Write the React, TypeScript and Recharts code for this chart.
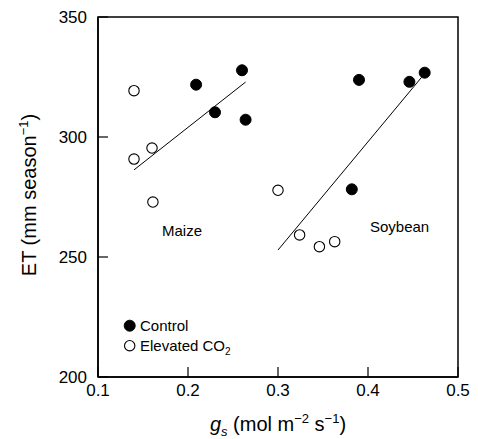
import React from "react";
import {
  ComposedChart,
  Scatter,
  XAxis,
  YAxis,
  ReferenceLine,
  ReferenceArea,
  ReferenceDot,
  Legend,
} from "recharts";

const FONT = '"Liberation Sans", Arial, Helvetica, sans-serif';

// Data
const controlX = [0.209, 0.23, 0.26, 0.264, 0.382, 0.39, 0.446, 0.463];
const controlY = [321.8, 310.3, 327.8, 307.2, 278.2, 323.8, 323.0, 326.8];
const elevatedX = [0.14, 0.14, 0.16, 0.161, 0.3, 0.324, 0.346, 0.363];
const elevatedY = [319.3, 290.8, 295.4, 272.9, 277.8, 259.2, 254.3, 256.4];

const maizeFitX = [0.14, 0.264];
const maizeFitY = [286.3, 322.9];
const soyFitX = [0.3, 0.4596];
const soyFitY = [252.9, 324.9];

const xTicks = [0.1, 0.2, 0.3, 0.4, 0.5];
const yTicks = [200, 250, 300, 350];

const cropLabels = ["Maize", "Soybean"];
const cropLabelX = [0.1711, 0.4022];
const cropLabelY = [258.75, 260.4];

const seriesNames = ["Control", "Elevated CO"];

const controlData = controlX.map((x, i) => ({ x, y: controlY[i] }));
const elevatedData = elevatedX.map((x, i) => ({ x, y: elevatedY[i] }));

const FilledDot = (p: any) => (
  <circle cx={p.cx} cy={p.cy} r={5.5} fill="#000" stroke="#000" strokeWidth={1} />
);
const OpenDot = (p: any) => (
  <circle cx={p.cx} cy={p.cy} r={5.2} fill="#fff" stroke="#000" strokeWidth={1.1} />
);

const XTick = (p: any) => {
  const { x, y, payload } = p;
  return (
    <g>
      <line x1={x} y1={y} x2={x} y2={y - 10} stroke="#000" strokeWidth={1.2} />
      <text x={x} y={y + 19} textAnchor="middle" fontSize={17} fontFamily={FONT} fill="#000">
        {Number(payload.value).toFixed(1)}
      </text>
    </g>
  );
};

const YTick = (p: any) => {
  const { x, y, payload } = p;
  return (
    <g>
      <line x1={x} y1={y} x2={x + 10} y2={y} stroke="#000" strokeWidth={1.2} />
      <text x={x - 11} y={y + 6} textAnchor="end" fontSize={17} fontFamily={FONT} fill="#000">
        {payload.value}
      </text>
    </g>
  );
};

const YLabel = (p: any) => {
  const vb = p.viewBox || { x: 0, y: 17, width: 98, height: 360 };
  const cx = vb.x + 36;
  const cy = vb.y + vb.height / 2 - 2;
  return (
    <text
      x={cx}
      y={cy}
      transform={`rotate(-90, ${cx}, ${cy})`}
      textAnchor="middle"
      fontSize={20}
      fontFamily={FONT}
      fill="#000"
    >
      ET (mm season
      <tspan fontSize={13} dy={-8}>
        −1
      </tspan>
      <tspan dy={8}>)</tspan>
    </text>
  );
};

const XLabel = (p: any) => {
  const vb = p.viewBox || { x: 98, y: 377, width: 360, height: 62 };
  const cx = vb.x + vb.width / 2;
  const cy = vb.y + 54;
  return (
    <text x={cx} y={cy} textAnchor="middle" fontSize={20} fontFamily={FONT} fill="#000">
      <tspan fontStyle="italic">g</tspan>
      <tspan fontStyle="italic" fontSize={13} dy={5}>
        s
      </tspan>
      <tspan dy={-5}> (mol m</tspan>
      <tspan fontSize={13} dy={-8}>
        −2
      </tspan>
      <tspan dy={8}> s</tspan>
      <tspan fontSize={13} dy={-8}>
        −1
      </tspan>
      <tspan dy={8}>)</tspan>
    </text>
  );
};

const LegendContent = () => (
  <svg width={140} height={44} style={{ display: "block" }}>
    <circle cx={11.7} cy={11.7} r={5.5} fill="#000" stroke="#000" />
    <text x={22} y={17} fontSize={15} fontFamily={FONT} fill="#000">
      {seriesNames[0]}
    </text>
    <circle cx={11.7} cy={31.7} r={5.2} fill="#fff" stroke="#000" strokeWidth={1.1} />
    <text x={22} y={37} fontSize={15} fontFamily={FONT} fill="#000">
      {seriesNames[1]}
      <tspan fontSize={10} dy={4}>
        2
      </tspan>
    </text>
  </svg>
);

const makeTextShape = (txt: string) => (p: any) => (
  <text x={p.cx} y={p.cy} fontSize={15} fontFamily={FONT} fill="#000">
    {txt}
  </text>
);

export default function App() {
  return (
    <div style={{ position: "absolute", left: 0, top: 0, width: 478, height: 439, background: "#fff" }}>
      <ComposedChart
        width={478}
        height={439}
        margin={{ top: 17, right: 20, left: 0, bottom: 0 }}
      >
        <XAxis
          dataKey="x"
          type="number"
          domain={[0.1, 0.5]}
          ticks={xTicks}
          interval={0}
          height={62}
          tickSize={0}
          tickMargin={0}
          tickLine={false}
          axisLine={{ stroke: "#000", strokeWidth: 1.5 }}
          tick={<XTick />}
          label={{ content: <XLabel /> } as any}
          allowDataOverflow
        />
        <YAxis
          dataKey="y"
          type="number"
          domain={[200, 350]}
          ticks={yTicks}
          interval={0}
          width={98}
          tickSize={0}
          tickMargin={0}
          tickLine={false}
          axisLine={{ stroke: "#000", strokeWidth: 1.5 }}
          tick={<YTick />}
          label={{ content: <YLabel /> } as any}
          allowDataOverflow
        />
        <ReferenceArea
          x1={0.1}
          x2={0.5}
          y1={200}
          y2={350}
          fill="none"
          fillOpacity={0}
          stroke="#000"
          strokeWidth={1.5}
          ifOverflow="visible"
        />
        <ReferenceLine
          segment={[
            { x: maizeFitX[0], y: maizeFitY[0] },
            { x: maizeFitX[1], y: maizeFitY[1] },
          ]}
          stroke="#000"
          strokeWidth={1}
          ifOverflow="visible"
        />
        <ReferenceLine
          segment={[
            { x: soyFitX[0], y: soyFitY[0] },
            { x: soyFitX[1], y: soyFitY[1] },
          ]}
          stroke="#000"
          strokeWidth={1}
          ifOverflow="visible"
        />
        {cropLabels.map((c, i) => (
          <ReferenceDot
            key={c}
            x={cropLabelX[i]}
            y={cropLabelY[i]}
            r={0}
            ifOverflow="visible"
            shape={makeTextShape(c)}
          />
        ))}
        <Scatter
          name={seriesNames[0]}
          data={controlData}
          shape={FilledDot}
          isAnimationActive={false}
        />
        <Scatter
          name={seriesNames[1]}
          data={elevatedData}
          shape={OpenDot}
          isAnimationActive={false}
        />
        <Legend
          layout="vertical"
          align="center"
          verticalAlign="middle"
          content={<LegendContent />}
          wrapperStyle={{ left: 118, top: 314, width: 140, height: 44 }}
        />
      </ComposedChart>
    </div>
  );
}
